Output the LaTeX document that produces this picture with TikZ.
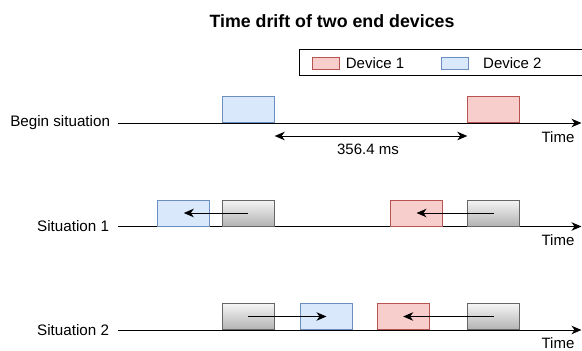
\documentclass[tikz,border=0pt]{standalone}
\usepackage{fontspec}
\setmainfont{Liberation Sans}
\usetikzlibrary{arrows.meta}
\definecolor{bluefill}{HTML}{DAE8FC}
\definecolor{bluedraw}{HTML}{6C8EBF}
\definecolor{redfill}{HTML}{F8CECC}
\definecolor{reddraw}{HTML}{B85450}
\definecolor{graytop}{HTML}{F5F5F5}
\definecolor{graybot}{HTML}{B3B3B3}
\definecolor{graydraw}{HTML}{666666}
\tikzset{
  x=1pt, y=-1pt,
  head/.tip={Stealth[length=10pt,width=8.5pt,inset=3pt]},
  slot/.style={minimum width=52pt, minimum height=26pt, inner sep=0pt, line width=1pt},
  dev1/.style={slot, draw=reddraw, fill=redfill},
  dev2/.style={slot, draw=bluedraw, fill=bluefill},
  shifted/.style={slot, draw=graydraw, top color=graytop, bottom color=graybot},
  axis/.style={line width=1pt, -head},
  drift/.style={line width=1pt, -head},
  rowlabel/.style={anchor=east, inner sep=0pt, outer sep=0pt, font=\fontsize{15.2}{18}\selectfont},
  timelabel/.style={inner sep=0pt, font=\fontsize{15}{18}\selectfont},
  swatch/.style={minimum width=27pt, minimum height=12pt, inner sep=0pt, line width=1pt},
}
\begin{document}
\begin{tikzpicture}
\useasboundingbox (0,0) rectangle (582,351);

% title
\node[font=\bfseries\fontsize{17.8}{21}\selectfont, inner sep=0pt] (title) at (332,20.7) {Time drift of two end devices};

% legend frame, running past the right edge
\coordinate (lgtl) at (299.3,49);
\coordinate (lgbl) at (299.3,75.7);
\coordinate (lgtr) at (600,49);
\coordinate (lgbr) at (600,75.7);
\draw[line width=1pt] (lgtr) -- (lgtl) -- (lgbl) -- (lgbr);
\node[swatch, draw=reddraw, fill=redfill] (sw1) at (325.5,63.3) {};
\node[timelabel, anchor=west] (lg1) at (345.7,63.3) {Device 1};
\node[swatch, draw=bluedraw, fill=bluefill] (sw2) at (455.2,63.3) {};
\node[timelabel, anchor=west] (lg2) at (483,63.3) {Device 2};

% begin situation
\node[rowlabel] (l0) at (110,123) {Begin situation};
\coordinate (s0) at (118,123);
\coordinate (e0) at (581.5,123);
\draw[axis] (s0) -- (e0);
\node[dev2, anchor=south west] (b0) at (221.7,123) {};
\node[dev1, anchor=south west] (r0) at (467.3,123) {};
\node[timelabel] (t0) at (558,137) {Time};
\draw[line width=1pt, head-head]
  (b0.south east |- 0,136) coordinate (d0) -- (r0.south west |- 0,136) coordinate (d1);
\node[timelabel] (ms) at (368,149.3) {356.4 ms};

% situation 1
\node[rowlabel] (l1) at (109,226.5) {Situation 1};
\coordinate (s1) at (118,226.5);
\coordinate (e1) at (581.5,226.5);
\draw[axis] (s1) -- (e1);
\node[dev2, anchor=south west] (b1) at (157.3,226.5) {};
\node[shifted, anchor=south west] (g1a) at (221.7,226.5) {};
\node[dev1, anchor=south west] (r1) at (390,226.5) {};
\node[shifted, anchor=south west] (g1b) at (467.3,226.5) {};
\draw[drift] (g1a.center) -- (b1.center);
\draw[drift] (g1b.center) -- (r1.center);
\node[timelabel] (t1) at (558,240.5) {Time};

% situation 2
\node[rowlabel] (l2) at (109,330) {Situation 2};
\coordinate (s2) at (118,330);
\coordinate (e2) at (581.5,330);
\draw[axis] (s2) -- (e2);
\node[shifted, anchor=south west] (g2a) at (221.7,330) {};
\node[dev2, anchor=south west] (b2) at (300,330) {};
\node[dev1, anchor=south west] (r2) at (376.7,330) {};
\node[shifted, anchor=south west] (g2b) at (467.3,330) {};
\draw[drift] (g2a.center) -- (b2.center);
\draw[drift] (g2b.center) -- (r2.center);
\node[timelabel] (t2) at (558,343.5) {Time};
\end{tikzpicture}
\end{document}
